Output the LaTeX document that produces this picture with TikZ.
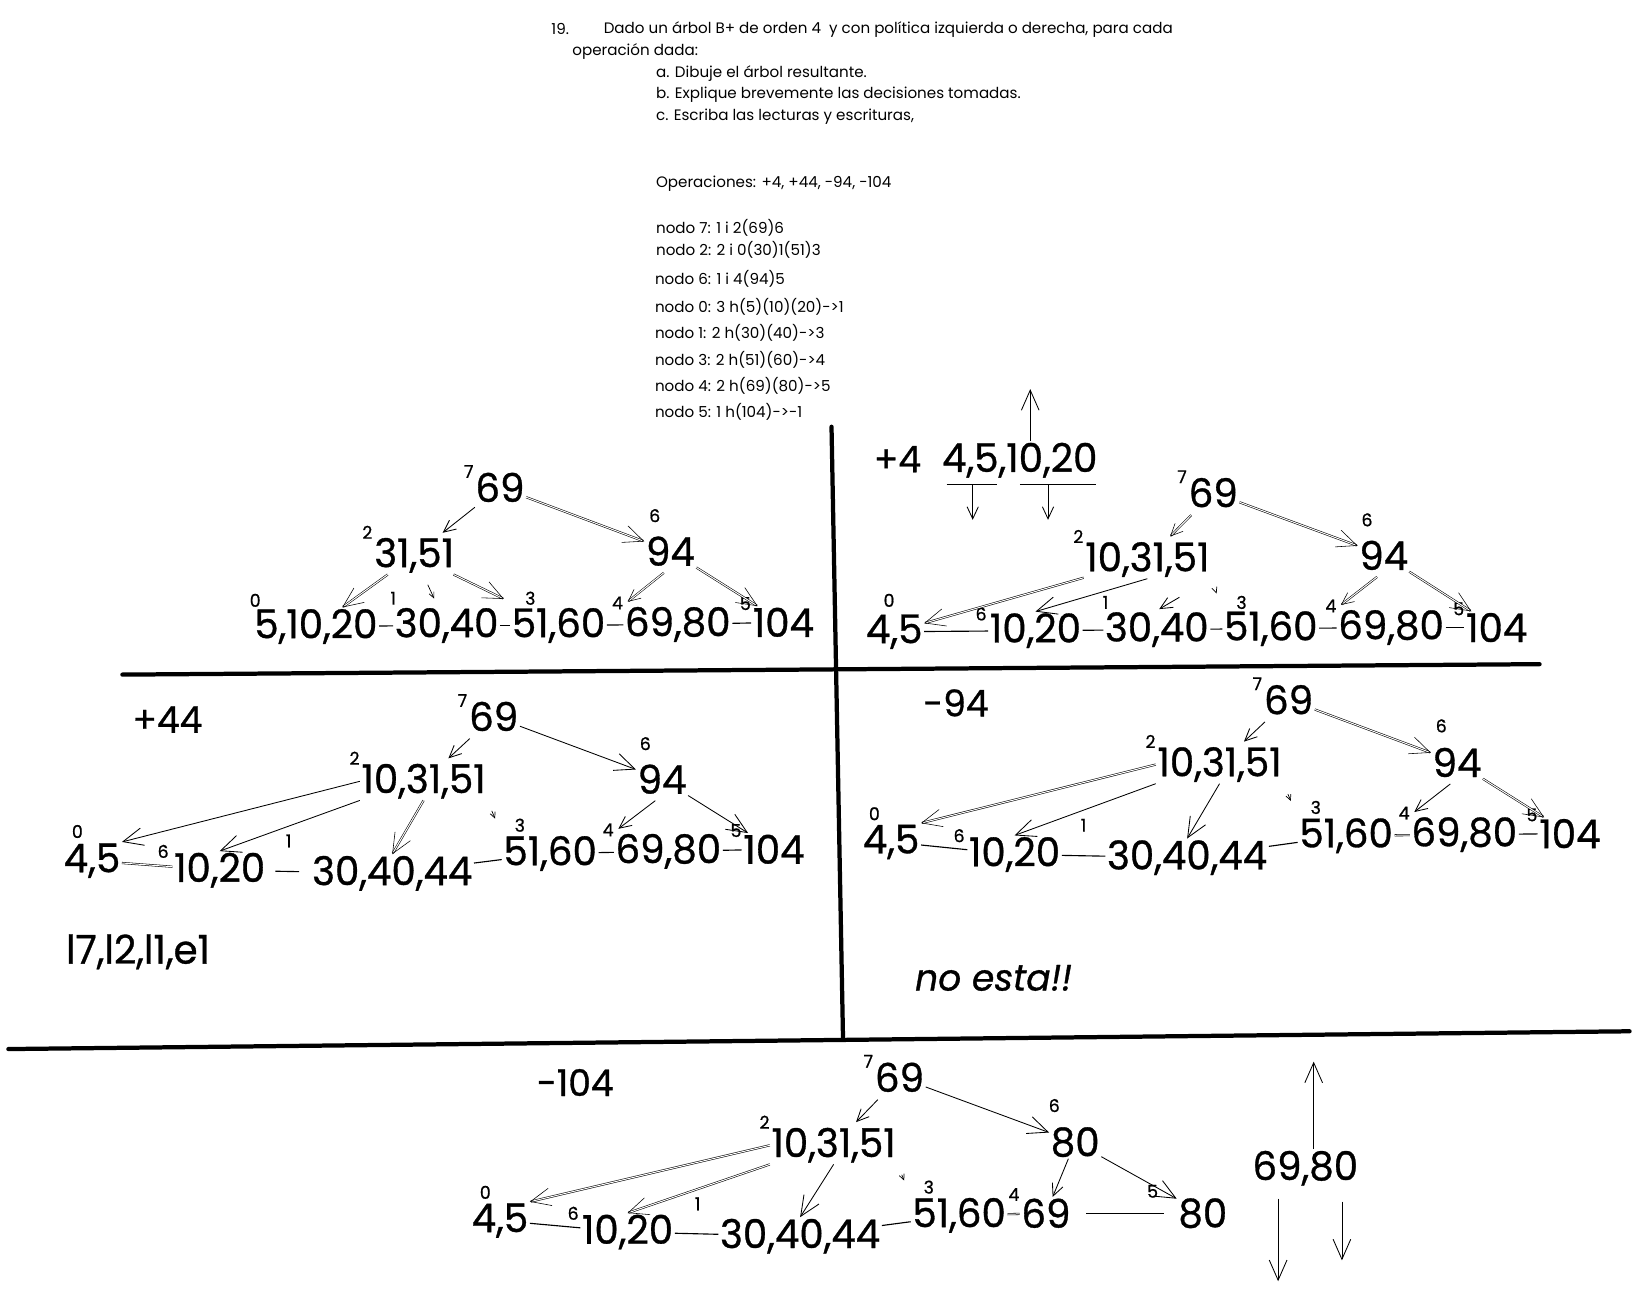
\documentclass[tikz,border=0pt]{standalone}
\usepackage{fontspec}
\setmainfont{Poppins}
\newfontfamily\handfont[FakeStretch=0.98,FakeBold=0.8]{Poppins}
\usetikzlibrary{arrows.meta}

\tikzset{
  txt/.style={anchor=west,inner sep=0pt,font=\fontsize{10.7}{12}\selectfont},
  num/.style={inner sep=1pt,font=\handfont\fontsize{28}{28}\selectfont},
  idx/.style={inner sep=0pt,font=\handfont\fontsize{12.5}{12.5}\selectfont},
  sup/.style={idx,anchor=south east},
  op/.style={inner sep=0pt,font=\handfont\fontsize{26}{26}\selectfont},
  arr/.style={line width=0.6pt,-{Straight Barb[length=5mm,width=4.4mm]}},
  marr/.style={line width=0.6pt,-{Straight Barb[length=3mm,width=2.8mm]}},
  sarr/.style={line width=0.5pt,-{Straight Barb[length=1.4mm,width=1.3mm]}},
  dbl/.style={double,double distance=0.7pt,line width=0.4pt},
  link/.style={line width=0.8pt},
  bar/.style={line width=3pt,line cap=round}
}

\begin{document}
\begin{tikzpicture}[x=0.026cm,y=-0.026cm]
\useasboundingbox (0,0) rectangle (1568,1237);
% enunciado
\node[txt] (h0) at (527,28) {19.};
\node[txt] (h1) at (577,28) {Dado un árbol B+ de orden 4\ \ y con política izquierda o derecha, para cada};
\node[txt] (h2) at (547,49) {operación dada:};
\node[txt] (h3) at (627,70) {a. Dibuje el árbol resultante.};
\node[txt] (h4) at (627,91) {b. Explique brevemente las decisiones tomadas.};
\node[txt] (h5) at (627,112) {c. Escriba las lecturas y escrituras,};
\node[txt] (h6) at (627,176) {Operaciones: +4, +44, -94, -104};
\node[txt] (h7) at (627,218) {nodo 7: 1 i 2(69)6};
\node[txt] (h8) at (627,239) {nodo 2: 2 i 0(30)1(51)3};
\node[txt] (h9) at (626,267) {nodo 6: 1 i 4(94)5};
\node[txt] (h10) at (626,293) {nodo 0: 3 h(5)(10)(20)->1};
\node[txt] (h11) at (626,318) {nodo 1: 2 h(30)(40)->3};
\node[txt] (h12) at (626,344) {nodo 3: 2 h(51)(60)->4};
\node[txt] (h13) at (626,369) {nodo 4: 2 h(69)(80)->5};
\node[txt] (h14) at (626,394) {nodo 5: 1 h(104)->-1};

% divisiones
\draw[bar] (795,408) -- (806,993);
\draw[bar] (117,645) -- (1472,635);
\draw[bar] (8,1003) -- (1558,986);

% arbol inicial
\node[num] (A7) at (478,466) {69};
\node[sup] (A7i) at ([yshift=-5pt]A7.north west) {7};
\node[num] (A6) at (641,527) {94};
\node[idx] (A6i) at (626,493) {6};
\node[num] (A2) at (396,531) {31,51};
\node[sup] (A2i) at ([yshift=-2pt]A2.north west) {2};
\node[num] (A0) at (302,599) {5,10,20};
\node[idx] (A0i) at (244,574) {0};
\node[num] (A1) at (427,598) {30,40};
\node[idx] (A1i) at (376,572) {1};
\node[num] (A3) at (534,598) {51,60};
\node[idx] (A3i) at (507,572) {3};
\node[num] (A4) at (648,597) {69,80};
\node[sup] (A4i) at ([yshift=-3pt]A4.north west) {4};
\node[num] (A5) at (749,595) {104};
\node[sup] (A5i) at ([yshift=-3pt]A5.north west) {5};
\draw[marr,shorten <=4pt,shorten >=4pt] (A7) -- (A2);
\draw[arr,dbl] (A7) -- (A6);
\draw[arr,dbl] (A2) -- (A0);
\draw[sarr,shorten <=8pt,shorten >=6pt] (A2) -- (A1);
\draw[arr,dbl,shorten >=12pt] (A2) -- (A3);
\draw[marr,dbl,shorten <=6pt,shorten >=4pt] (A6.south) -- (A4.north west);
\draw[arr,dbl] (A6) -- (A5);
\draw[link] (A0) -- (A1);
\draw[link] (A1) -- (A3);
\draw[link] (A3) -- (A4);
\draw[link] (A4) -- (A5);

% +4
\node[op] (Bop) at (858,439) {+4};
\node[num] (Bs) at (975,440) {4,5,10,20};
\coordinate (Bup) at (985,372);
\draw[arr] (Bs.north -| Bup) -- (Bup);
\coordinate (Bu1) at (905,463);
\coordinate (Bu2) at (953,463);
\coordinate (Bu3) at (975,463);
\coordinate (Bu4) at (1048,463);
\draw[link] (Bu1) -- (Bu2);
\draw[link] (Bu3) -- (Bu4);
\coordinate (Bd1) at (930,497);
\coordinate (Bd2) at (1002,497);
\draw[marr] (Bd1 |- Bu1) -- (Bd1);
\draw[marr] (Bd2 |- Bu3) -- (Bd2);
\node[num] (B7) at (1160,471) {69};
\node[sup] (B7i) at ([yshift=-5pt]B7.north west) {7};
\node[num] (B6) at (1323,531) {94};
\node[idx] (B6i) at (1307,497) {6};
\node[num] (B2) at (1097,535) {10,31,51};
\node[sup] (B2i) at ([yshift=-2pt]B2.north west) {2};
\node[num] (B0) at (855,604) {4,5};
\node[idx] (B0i) at (850,574) {0};
\node[num] (Bn6) at (990,603) {10,20};
\node[idx] (Bn6i) at (938,587) {6};
\node[num] (B1) at (1106,602) {30,40};
\node[idx] (B1i) at (1057,576) {1};
\node[num] (B3) at (1215,601) {51,60};
\node[idx] (B3i) at (1187,576) {3};
\node[num] (B4) at (1330,600) {69,80};
\node[sup] (B4i) at ([yshift=-3pt]B4.north west) {4};
\node[num] (B5) at (1431,600) {104};
\node[sup] (B5i) at ([yshift=-3pt]B5.north west) {5};
\draw[marr,dbl,shorten <=6pt,shorten >=4pt] (B7) -- (B2);
\draw[arr,dbl] (B7) -- (B6);
\draw[arr,dbl] (B2) -- (B0);
\draw[arr] (B2.south) -- (Bn6.north);
\draw[marr,shorten <=26pt,shorten >=2pt] (B2.south east) -- (B1.north);
\draw[sarr,shorten <=10pt,shorten >=12pt] (B2.south east) -- (B3.north west);
\draw[marr,dbl,shorten <=6pt,shorten >=4pt] (B6.south) -- (B4.north west);
\draw[arr,dbl] (B6) -- (B5);
\draw[link] (B0) -- (Bn6);
\draw[link] (Bn6) -- (B1);
\draw[link] (B1) -- (B3);
\draw[link] (B3) -- (B4);
\draw[link] (B4) -- (B5);

% +44
\node[op] (Cop) at (160,688) {+44};
\node[num] (C7) at (472,685) {69};
\node[sup] (C7i) at ([yshift=-5pt]C7.north west) {7};
\node[num] (C6) at (633,745) {94};
\node[idx] (C6i) at (617,711) {6};
\node[num] (C2) at (405,747) {10,31,51};
\node[sup] (C2i) at ([yshift=-2pt]C2.north west) {2};
\node[num] (C0) at (88,823) {4,5};
\node[idx] (C0i) at (74,795) {0};
\node[num] (Cn6) at (210,832) {10,20};
\node[idx] (Cn6i) at (156,814) {6};
\node[num] (C1) at (375,835) {30,40,44};
\node[idx] (C1i) at (276,804) {1};
\node[num] (C3) at (526,816) {51,60};
\node[idx] (C3i) at (497,789) {3};
\node[num] (C4) at (639,814) {69,80};
\node[sup] (C4i) at ([yshift=-3pt]C4.north west) {4};
\node[num] (C5) at (740,812) {104};
\node[sup] (C5i) at ([yshift=-3pt]C5.north west) {5};
\draw[marr,shorten <=6pt,shorten >=4pt] (C7) -- (C2);
\draw[arr] (C7) -- (C6);
\draw[arr] (C2.west) -- (C0.north east);
\draw[arr] (C2.south west) -- (Cn6.north);
\draw[arr,dbl] (C2.south) -- (C1.north);
\draw[sarr,shorten <=8pt,shorten >=12pt] (C2.south east) -- (C3.north west);
\draw[marr,shorten <=6pt,shorten >=4pt] (C6.south) -- (C4.north west);
\draw[arr] (C6) -- (C5);
\draw[link,dbl] (C0) -- (Cn6);
\draw[link,shorten <=6pt,shorten >=8pt] (Cn6) -- (C1);
\draw[link] (C1) -- (C3);
\draw[link] (C3) -- (C4);
\draw[link] (C4) -- (C5);
\node[num] (Cio) at (132,910) {l7,l2,l1,e1};

% -94
\node[op] (Dop) at (914,672) {-94};
\node[num] (D7) at (1232,669) {69};
\node[sup] (D7i) at ([yshift=-5pt]D7.north west) {7};
\node[num] (D6) at (1393,729) {94};
\node[idx] (D6i) at (1378,694) {6};
\node[num] (D2) at (1166,731) {10,31,51};
\node[sup] (D2i) at ([yshift=-2pt]D2.north west) {2};
\node[num] (D0) at (852,805) {4,5};
\node[idx] (D0i) at (836,778) {0};
\node[num] (Dn6) at (970,817) {10,20};
\node[idx] (Dn6i) at (917,799) {6};
\node[num] (D1) at (1135,820) {30,40,44};
\node[idx] (D1i) at (1036,789) {1};
\node[num] (D3) at (1287,799) {51,60};
\node[idx] (D3i) at (1258,772) {3};
\node[num] (D4) at (1400,798) {69,80};
\node[sup] (D4i) at ([yshift=-3pt]D4.north west) {4};
\node[num] (D5) at (1501,797) {104};
\node[sup] (D5i) at ([yshift=-3pt]D5.north west) {5};
\draw[marr,shorten <=6pt,shorten >=4pt] (D7) -- (D2);
\draw[arr,dbl] (D7) -- (D6);
\draw[arr,dbl] (D2.west) -- (D0.north east);
\draw[arr] (D2.south west) -- (Dn6.north);
\draw[arr] (D2.south) -- (D1.north);
\draw[sarr,shorten <=8pt,shorten >=12pt] (D2.south east) -- (D3.north west);
\draw[marr,shorten <=6pt,shorten >=4pt] (D6.south) -- (D4.north west);
\draw[arr,dbl] (D6) -- (D5);
\draw[link] (D0) -- (Dn6);
\draw[link] (Dn6) -- (D1);
\draw[link] (D1) -- (D3);
\draw[link,dbl] (D3) -- (D4);
\draw[link] (D4) -- (D5);
\node[op] (Dno) at (950,935) {\itshape no esta!!};

% -104
\node[op] (Eop) at (550,1035) {-104};
\node[num] (E7) at (860,1030) {69};
\node[sup] (E7i) at ([yshift=-5pt]E7.north west) {7};
\node[num] (E6) at (1028,1092) {80};
\node[idx] (E6i) at (1008,1057) {6};
\node[num] (E2) at (797,1095) {10,31,51};
\node[sup] (E2i) at ([yshift=-2pt]E2.north west) {2};
\node[num] (E0) at (478,1167) {4,5};
\node[idx] (E0i) at (464,1140) {0};
\node[num] (En6) at (600,1178) {10,20};
\node[idx] (En6i) at (548,1160) {6};
\node[num] (E1) at (765,1182) {30,40,44};
\node[idx] (E1i) at (667,1151) {1};
\node[num] (E3) at (917,1162) {51,60};
\node[idx] (E3i) at (888,1135) {3};
\node[num] (E4) at (1000,1160) {69};
\node[sup] (E4i) at ([yshift=-3pt]E4.north west) {4};
\node[num] (E5) at (1150,1160) {80};
\node[idx] (E5i) at (1102,1139) {5};
\draw[marr,shorten <=6pt,shorten >=4pt] (E7) -- (E2);
\draw[arr] (E7) -- (E6);
\draw[arr,dbl] (E2.west) -- (E0.north east);
\draw[arr,dbl] (E2.south west) -- (En6.north);
\draw[arr] (E2.south) -- (E1.north);
\draw[sarr,shorten <=8pt,shorten >=12pt] (E2.south east) -- (E3.north west);
\draw[marr] (E6) -- (E4);
\draw[arr] (E6) -- (E5);
\draw[link] (E0) -- (En6);
\draw[link] (En6) -- (E1);
\draw[link] (E1) -- (E3);
\draw[link,dbl] (E3) -- (E4);
\draw[link,shorten <=10pt,shorten >=9pt] (E4) -- (E5);
\node[num] (Em) at (1248,1117) {69,80};
\coordinate (Eup) at (1256,1015);
\draw[arr] (Em.north -| Eup) -- (Eup);
\coordinate (Edn1) at (1222,1225);
\coordinate (Edn2) at (1283,1205);
\draw[arr,shorten <=8pt] (Em.south -| Edn1) -- (Edn1);
\draw[arr,shorten <=10pt] (Em.south -| Edn2) -- (Edn2);
\end{tikzpicture}
\end{document}
